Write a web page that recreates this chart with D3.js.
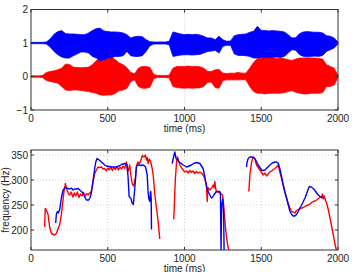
<!DOCTYPE html>
<html>
<head>
<meta charset="utf-8">
<script src="https://cdn.jsdelivr.net/npm/d3@7"></script>
<style>
  body { margin: 0; background: #fff; }
  svg { display: block; font-family: "Liberation Sans", Arial, sans-serif; }
</style>
</head>
<body>
<svg id="chart" width="352" height="272"></svg>
<script>
// ---- data ----
// waveform envelopes sampled every 25 ms (0..2000), amplitudes read off the picture
const envTimes = d3.range(0, 2001, 25);
const blueUpper = [0.02,0.02,0.02,0.02,0.03,0.12,0.26,0.34,0.37,0.28,0.27,0.27,0.26,0.25,0.25,0.3,0.37,0.43,0.44,0.36,
  0.34,0.33,0.33,0.32,0.3,0.25,0.15,0.19,0.2,0.19,0.1,0.04,0.03,0.03,0.03,0.03,0.05,0.33,0.3,0.27,
  0.25,0.26,0.25,0.26,0.24,0.2,0.15,0.15,0.1,0.2,0.1,0.05,0.06,0.22,0.25,0.26,0.27,0.32,0.35,0.5,
  0.37,0.37,0.36,0.37,0.36,0.35,0.33,0.25,0.15,0.16,0.28,0.33,0.34,0.33,0.32,0.32,0.3,0.22,0.2,0.15,0.03];
const blueLower = [0.02,0.02,0.02,0.02,0.03,0.12,0.25,0.35,0.42,0.45,0.45,0.38,0.33,0.27,0.27,0.3,0.4,0.45,0.53,0.5,
  0.45,0.44,0.4,0.4,0.38,0.25,0.38,0.4,0.4,0.38,0.25,0.08,0.03,0.03,0.03,0.03,0.05,0.4,0.38,0.36,
  0.35,0.35,0.36,0.35,0.34,0.3,0.25,0.24,0.22,0.3,0.1,0.07,0.07,0.33,0.37,0.37,0.38,0.4,0.45,0.45,
  0.43,0.44,0.43,0.43,0.42,0.43,0.4,0.3,0.2,0.22,0.35,0.4,0.4,0.4,0.39,0.4,0.37,0.25,0.2,0.15,0.03];
const redUpper = [0.02,0.02,0.02,0.03,0.12,0.15,0.17,0.2,0.25,0.37,0.36,0.28,0.27,0.26,0.27,0.28,0.35,0.47,0.56,0.58,
  0.6,0.57,0.5,0.4,0.35,0.26,0.12,0.08,0.25,0.3,0.3,0.27,0.06,0.03,0.03,0.03,0.04,0.25,0.3,0.3,
  0.3,0.31,0.3,0.3,0.29,0.25,0.15,0.15,0.2,0.21,0.1,0.09,0.1,0.1,0.12,0.1,0.1,0.25,0.42,0.53,
  0.55,0.55,0.56,0.55,0.54,0.55,0.53,0.5,0.48,0.52,0.55,0.55,0.56,0.55,0.55,0.54,0.52,0.35,0.3,0.25,0.03];
const redLower = [0.02,0.02,0.02,0.03,0.12,0.15,0.17,0.2,0.3,0.4,0.42,0.4,0.4,0.42,0.43,0.45,0.48,0.5,0.55,0.56,
  0.55,0.55,0.5,0.42,0.4,0.35,0.15,0.1,0.3,0.35,0.35,0.32,0.06,0.03,0.03,0.03,0.04,0.3,0.33,0.34,
  0.35,0.34,0.35,0.34,0.34,0.3,0.17,0.17,0.33,0.35,0.12,0.1,0.1,0.1,0.1,0.1,0.1,0.3,0.45,0.5,
  0.5,0.52,0.5,0.5,0.5,0.5,0.48,0.45,0.42,0.47,0.5,0.52,0.52,0.5,0.5,0.5,0.48,0.3,0.3,0.25,0.03];

// pitch tracks (ms, Hz); null marks an unvoiced gap
const redPitchT = [89,93,100,111,122,133,154,165,187,198,215,224,230,235,245,252,262,272,282,292,302,312,322,332,342,352,362,372,382,393,
  404,415,426,437,448,459,470,480,490,500,510,520,530,540,550,560,570,580,590,600,610,622,628,633,643,650,660,670,680,687,
  696,706,716,726,736,746,751,757,763,770,780,790,796,807,817,828,839,null,
  930,935,940,948,955,962,970,980,991,1002,1013,1024,1035,1045,1056,1067,1078,1089,1100,1110,1121,1132,1143,1148,1152,1165,1176,1187,1192,1198,
  1203,1208,1219,1230,1240,1248,1256,1265,1274,1284,1291,null,
  1419,1426,1437,1448,1458,1469,1480,1491,1502,1513,1524,1535,1545,1556,1567,1578,1589,1600,1611,1621,1632,1643,1654,1665,1676,1687,1698,1708,1719,1730,
  1741,1752,1763,1774,1785,1796,1807,1817,1828,1839,1850,1861,1872,1882,1893,1900,1904,1910,1920,1926,1937,1948,1958,1969,1980,1991];
const redPitchF = [206,243,240,231,205,193,190,193,211,231,277,293,285,280,272,270,276,266,274,268,276,265,272,268,275,267,273,270,274,277,
  297,313,320,326,325,326,322,323,318,324,320,326,319,325,321,327,320,326,322,328,323,336,320,318,330,310,292,288,305,328,
  336,332,340,349,346,350,340,345,333,342,336,322,310,270,244,218,182,null,
  221,260,300,335,346,338,330,325,320,316,318,314,319,315,318,313,317,314,316,314,310,303,290,257,285,280,284,290,284,297,
  283,277,276,274,272,270,247,211,185,165,158,null,
  277,310,336,346,343,330,325,320,315,310,314,308,312,316,318,321,323,326,330,316,304,290,276,264,253,244,237,236,234,239,
  241,242,244,245,247,249,250,252,255,257,258,260,263,265,267,272,262,268,258,254,240,224,208,191,172,158];

const bluePitchT = [161,165,172,178,187,198,209,224,240,252,263,274,285,296,307,317,328,339,350,361,376,385,393,404,415,422,430,440,448,459,
  470,480,491,507,524,540,557,573,589,600,611,620,626,633,639,645,650,659,667,676,687,695,704,717,730,740,746,757,763,768,
  774,778,780,783,785,null,
  920,928,937,945,955,965,975,991,1013,1030,1045,1060,1078,1100,1121,1132,1143,1154,1165,1176,1184,1191,1208,1220,1230,1234,1238,1242,1250,1255,1258,null,
  1404,1408,1415,1426,1437,1448,1458,1469,1480,1491,1502,1513,1524,1540,1556,1572,1589,1600,1611,1621,1632,1643,1654,1665,1676,1687,1698,1708,1719,1730,
  1741,1752,1763,1774,1785,1796,1806,1813,1825,1839,1850,1861,1872,1882,1893,1900];
const bluePitchF = [214,231,237,234,241,264,280,285,283,282,284,280,282,282,283,280,277,274,266,260,260,265,274,297,323,336,343,341,339,336,
  333,330,328,327,326,326,326,328,331,332,333,332,330,303,267,265,264,254,251,283,326,330,330,329,330,328,326,310,274,262,
  257,275,277,262,201,null,
  333,345,356,343,340,336,334,330,326,328,330,333,335,333,323,307,287,277,270,264,266,270,277,277,277,274,160,250,262,230,158,null,
  326,336,343,346,346,345,343,337,330,325,320,319,320,325,330,334,336,336,333,323,307,290,276,264,250,237,231,228,228,231,
  237,244,250,257,264,273,282,287,286,283,279,274,270,267,265,264];

const xTicks = [0, 500, 1000, 1500, 2000];
const waveTicks = [-1, 0, 1, 2];
const freqTicks = [200, 250, 300, 350];

const BLUE = "#0000ff", RED = "#ff0000";

// ---- layout ----
const svg = d3.select("#chart");
const left = 31, right = 338;
const top1 = 9.5, bot1 = 110;
const top2 = 150, bot2 = 250;

const x = d3.scaleLinear().domain([0, 2000]).range([left, right]);
const yWave = d3.scaleLinear().domain([-1, 2]).range([bot1, top1]);
const yFreq = d3.scaleLinear().domain([160, 360]).range([bot2, top2]);

function frame(g, yScale, yTicks, top, bot, hGrid) {
  // dotted grid
  g.append("g").selectAll("line").data(xTicks.slice(1, -1)).join("line")
    .attr("x1", d => x(d)).attr("x2", d => x(d))
    .attr("y1", top).attr("y2", bot)
    .attr("stroke", "#c8c8c8").attr("stroke-width", 0.8).attr("stroke-dasharray", "1,2");
  if (hGrid) {
    g.append("g").selectAll("line").data(yTicks).join("line")
      .attr("x1", left).attr("x2", right)
      .attr("y1", d => yScale(d)).attr("y2", d => yScale(d))
      .attr("stroke", "#c8c8c8").attr("stroke-width", 0.8).attr("stroke-dasharray", "1,2");
  }
}

function box(g, yScale, yTicks, top, bot) {
  const ax = g.append("g");
  ax.append("rect").attr("x", left).attr("y", top).attr("width", right - left).attr("height", bot - top)
    .attr("fill", "none").attr("stroke", "#333").attr("stroke-width", 1);
  // inward ticks on all sides
  xTicks.forEach(t => {
    ax.append("line").attr("x1", x(t)).attr("x2", x(t)).attr("y1", bot).attr("y2", bot - 3).attr("stroke", "#333");
    ax.append("line").attr("x1", x(t)).attr("x2", x(t)).attr("y1", top).attr("y2", top + 3).attr("stroke", "#333");
  });
  yTicks.forEach(t => {
    ax.append("line").attr("x1", left).attr("x2", left + 3).attr("y1", yScale(t)).attr("y2", yScale(t)).attr("stroke", "#333");
    ax.append("line").attr("x1", right).attr("x2", right - 3).attr("y1", yScale(t)).attr("y2", yScale(t)).attr("stroke", "#333");
  });
  ax.selectAll("text.xt").data(xTicks).join("text").attr("class", "xt")
    .attr("x", d => x(d)).attr("y", bot + 12)
    .attr("text-anchor", "middle").attr("font-size", 10).attr("fill", "#222")
    .text(d => d);
  ax.selectAll("text.yt").data(yTicks).join("text").attr("class", "yt")
    .attr("x", left - 3).attr("y", d => yScale(d) + 3.5)
    .attr("text-anchor", "end").attr("font-size", 10).attr("fill", "#222")
    .text(d => d < 0 ? "\u2212" + Math.abs(d) : d);
  ax.append("text").attr("x", (left + right) / 2).attr("y", bot + 21.5)
    .attr("text-anchor", "middle").attr("font-size", 10).attr("fill", "#222")
    .text("time (ms)");
}

// ---- top: waveforms ----
const g1 = svg.append("g");
frame(g1, yWave, waveTicks, top1, bot1, false);

function wave(upper, lower, offset, color) {
  const pts = envTimes.map((t, i) => ({ t, hi: offset + upper[i], lo: offset - lower[i] }));
  g1.append("path").datum(pts)
    .attr("d", d3.area().x(d => x(d.t)).y0(d => yWave(d.lo)).y1(d => yWave(d.hi)))
    .attr("fill", color).attr("stroke", color).attr("stroke-width", 0.8);
}
wave(redUpper, redLower, 0, RED);
wave(blueUpper, blueLower, 1, BLUE);
box(g1, yWave, waveTicks, top1, bot1);

// ---- bottom: pitch ----
const g2 = svg.append("g");
frame(g2, yFreq, freqTicks, top2, bot2, true);
svg.append("clipPath").attr("id", "clip2").append("rect")
  .attr("x", left).attr("y", top2).attr("width", right - left).attr("height", bot2 - top2);

const pitchLine = d3.line().defined(d => d.f !== null).x(d => x(d.t)).y(d => yFreq(d.f));
function track(ts, fs, color) {
  const pts = ts.map((t, i) => ({ t, f: fs[i] }));
  g2.append("path").datum(pts)
    .attr("clip-path", "url(#clip2)")
    .attr("d", pitchLine)
    .attr("fill", "none").attr("stroke", color).attr("stroke-width", 1.4)
    .attr("stroke-linejoin", "round");
}
track(redPitchT, redPitchF, RED);
track(bluePitchT, bluePitchF, BLUE);
box(g2, yFreq, freqTicks, top2, bot2);

svg.append("text")
  .attr("transform", `translate(9, ${(top2 + bot2) / 2}) rotate(-90)`)
  .attr("text-anchor", "middle").attr("font-size", 10).attr("fill", "#222")
  .text("frequency (Hz)");
</script>
</body>
</html>
